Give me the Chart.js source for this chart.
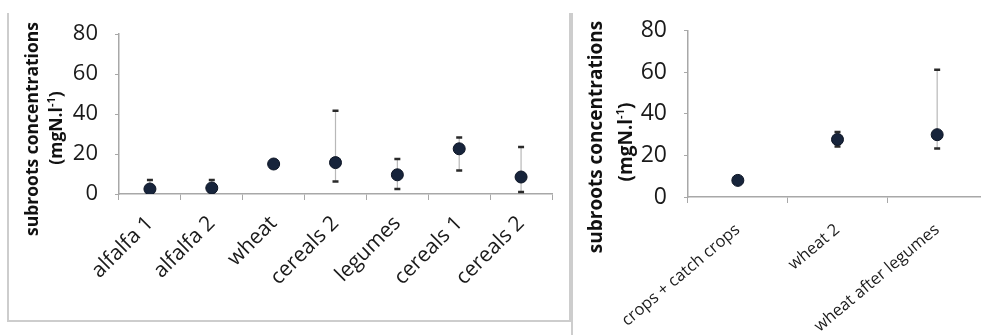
<!DOCTYPE html>
<html>
<head>
<meta charset="utf-8">
<script src="https://cdn.jsdelivr.net/npm/chart.js@4.4.0/dist/chart.umd.min.js"></script>
<style>
  html, body { margin: 0; padding: 0; background: #fff; overflow: hidden; width: 981px; height: 335px; }
  #c1 { position: absolute; left: 0; top: 0; }
  #c2 { position: absolute; left: 572px; top: 0; }
  #box { position: absolute; left: 7px; top: 13px; width: 560px; height: 307px;
         border-left: 2px solid #cdcdcd; border-bottom: 2px solid #cdcdcd; border-right: 2px solid #cdcdcd; }
  #sep { position: absolute; left: 571px; top: 13px; width: 2px; height: 322px; background: #cdcdcd; }
</style>
</head>
<body>
<div id="box"></div>
<div id="sep"></div>
<canvas id="c1" width="572" height="335"></canvas>
<canvas id="c2" width="430" height="335"></canvas>
<script>
// ---- data ----
const leftCategories = ['alfalfa 1', 'alfalfa 2', 'wheat', 'cereals 2', 'legumes', 'cereals 1', 'cereals 2'];
const leftMeans = [2.5, 3, 15, 15.7, 9.6, 22.6, 8.5];
const leftHigh  = [7, 7, 16, 41.6, 17.5, 28.3, 23.5];
const leftLow   = [2.5, 3, 14, 6.2, 2.5, 11.8, 1];

const rightCategories = ['crops + catch crops', 'wheat 2', 'wheat after legumes'];
const rightMeans = [8, 27.7, 30];
const rightHigh  = [8, 31.3, 61.3];
const rightLow   = [8, 24.3, 23.4];

const yTicks = [0, 20, 40, 60, 80];
const yTitle = 'subroots concentrations';

const FONT = "'Open Sans', 'Liberation Sans', sans-serif";
const POINT_FILL = '#17243b';
const AXIS_COL = '#a8a8a8';

function errorBarPlugin(high, low) {
  return {
    id: 'errbars',
    beforeDatasetsDraw(chart) {
      const ctx = chart.ctx, xs = chart.scales.x, ys = chart.scales.y;
      ctx.save();
      for (let i = 0; i < high.length; i++) {
        const x = xs.getPixelForValue(i);
        const yH = ys.getPixelForValue(high[i]);
        const yL = ys.getPixelForValue(low[i]);
        ctx.strokeStyle = '#b8b8b8';
        ctx.lineWidth = 1.2;
        ctx.beginPath(); ctx.moveTo(x, yH); ctx.lineTo(x, yL); ctx.stroke();
        ctx.strokeStyle = '#2a2a2a';
        ctx.lineWidth = 2.5;
        ctx.beginPath();
        ctx.moveTo(x - 3, yH); ctx.lineTo(x + 3, yH);
        ctx.moveTo(x - 3, yL); ctx.lineTo(x + 3, yL);
        ctx.stroke();
      }
      ctx.restore();
    }
  };
}

function titlePlugin(o) {
  return {
    id: 'ytitle',
    afterDraw(chart) {
      const ctx = chart.ctx;
      ctx.save();
      ctx.fillStyle = '#111';
      ctx.translate(o.x1, o.y1);
      ctx.rotate(-Math.PI / 2);
      ctx.font = 'bold ' + o.size + 'px ' + FONT;
      ctx.textAlign = 'center';
      ctx.textBaseline = 'middle';
      ctx.fillText(yTitle, 0, 0);
      ctx.restore();
      ctx.save();
      ctx.fillStyle = '#111';
      ctx.translate(o.x2, o.y2);
      ctx.rotate(-Math.PI / 2);
      const big = 'bold ' + o.size + 'px ' + FONT;
      const small = 'bold ' + Math.round(o.size * 0.6) + 'px ' + FONT;
      const p1 = '(mgN.l', p2 = '-1', p3 = ')';
      ctx.font = big; const w1 = ctx.measureText(p1).width, w3 = ctx.measureText(p3).width;
      ctx.font = small; const w2 = ctx.measureText(p2).width;
      let x = -(w1 + w2 + w3) / 2;
      ctx.textAlign = 'left'; ctx.textBaseline = 'middle';
      ctx.font = big; ctx.fillText(p1, x, 0); x += w1;
      ctx.font = small; ctx.fillText(p2, x, -o.size * 0.3); x += w2;
      ctx.font = big; ctx.fillText(p3, x, 0);
      ctx.restore();
    }
  };
}

function makeChart(id, cats, means, high, low, L) {
  return new Chart(document.getElementById(id), {
    type: 'line',
    data: {
      labels: cats,
      datasets: [{
        data: means,
        showLine: false,
        pointRadius: 6,
        pointHoverRadius: 6,
        pointBackgroundColor: POINT_FILL,
        pointBorderColor: '#0c1424',
        pointBorderWidth: 1
      }]
    },
    options: {
      responsive: false,
      animation: false,
      events: [],
      layout: { padding: { left: 0, right: L.padRight, top: L.top, bottom: 0 } },
      plugins: { legend: { display: false }, tooltip: { enabled: false } },
      scales: {
        x: {
          type: 'category',
          offset: true,
          grid: { offset: true, drawOnChartArea: false, drawTicks: true, tickLength: 6, color: AXIS_COL, lineWidth: 1 },
          border: { color: AXIS_COL, width: 1.5 },
          ticks: {
            autoSkip: false, minRotation: L.rot, maxRotation: L.rot,
            color: '#1a1a1a', padding: L.xpad,
            font: { family: FONT, size: L.xsize }
          },
          afterFit(s) { s.height = L.xh; }
        },
        y: {
          min: 0, max: 80,
          afterBuildTicks(s) { s.ticks = yTicks.map(v => ({ value: v })); },
          grid: { drawOnChartArea: false, drawTicks: true, tickLength: 4, color: AXIS_COL },
          border: { color: AXIS_COL, width: 1.5 },
          ticks: { color: '#1a1a1a', padding: L.ypad, font: { family: FONT, size: L.ysize } },
          afterFit(s) { s.width = L.yw; }
        }
      }
    },
    plugins: [errorBarPlugin(high, low), titlePlugin(L.title)]
  });
}

makeChart('c1', leftCategories, leftMeans, leftHigh, leftLow, {
  padRight: 20, top: 34, xh: 141, yw: 119, rot: 45, xpad: 11, xsize: 21, ypad: 17, ysize: 22,
  title: { x1: 33, y1: 129, x2: 57, y2: 128, size: 17.5 }
});
makeChart('c2', rightCategories, rightMeans, rightHigh, rightLow, {
  padRight: 15, top: 26, xh: 138, yw: 116, rot: 40, xpad: 17, xsize: 16.5, ypad: 17, ysize: 23,
  title: { x1: 25, y1: 137, x2: 55, y2: 142, size: 19 }
});
</script>
</body>
</html>
